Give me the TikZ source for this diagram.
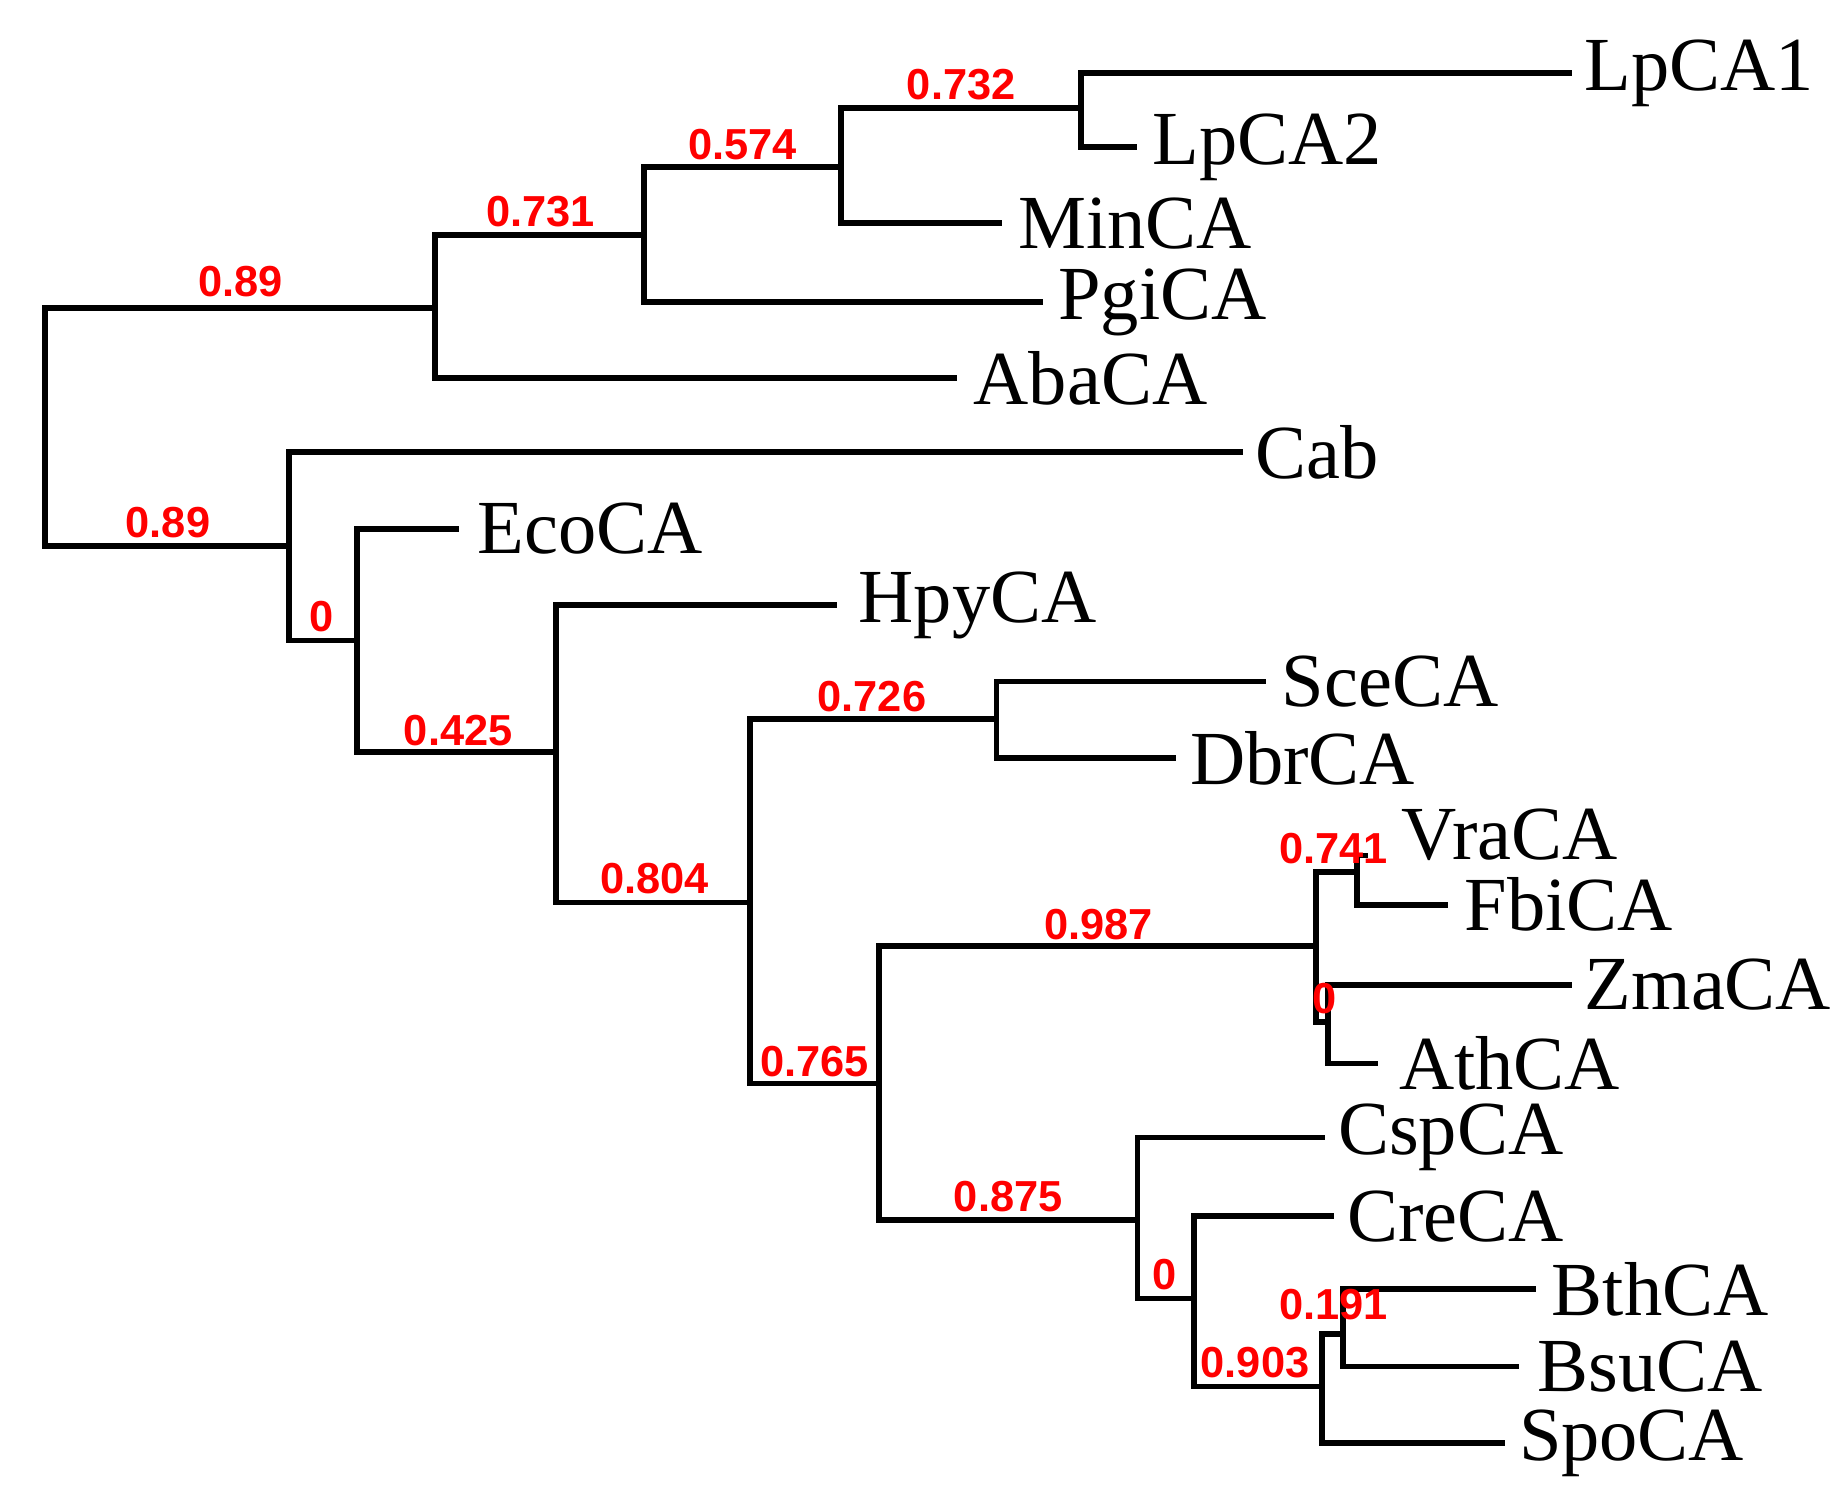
\documentclass[tikz,border=0pt]{standalone}
\usepackage{fontspec}
\setmainfont{Liberation Serif}
\newfontfamily\lsans{Liberation Sans}
\begin{document}
\begin{tikzpicture}[x=0.01cm,y=-0.01cm,
  br/.style={line width=1.4pt,line cap=rect},
  leaf/.style={anchor=west,inner sep=0pt,font=\fontsize{18.5}{18.5}\selectfont},
  sup/.style={text=red,inner sep=0pt,font=\lsans\bfseries\fontsize{10.5}{10.5}\selectfont}]
\useasboundingbox (0,0) rectangle (1565,1277);
% line ends of leaves
\coordinate (eLpCA1) at (1335,62);
\coordinate (eLpCA2) at (965,125);
\coordinate (eMinCA) at (850,190);
\coordinate (ePgiCA) at (885,257);
\coordinate (eAbaCA) at (812,322);
\coordinate (eCab) at (1055,385);
\coordinate (eEcoCA) at (388,450);
\coordinate (eHpyCA) at (710,515);
\coordinate (eSceCA) at (1075,580);
\coordinate (eDbrCA) at (998,645);
\coordinate (eVraCA) at (1162,728);
\coordinate (eFbiCA) at (1230,770);
\coordinate (eZmaCA) at (1335,838);
\coordinate (eAthCA) at (1170,905);
\coordinate (eCspCA) at (1125,968);
\coordinate (eCreCA) at (1133,1035);
\coordinate (eBthCA) at (1305,1097);
\coordinate (eBsuCA) at (1290,1163);
\coordinate (eSpoCA) at (1278,1228);
% leaves
\node[leaf] (LpCA1) at (1348,62) {LpCA1};
\node[leaf] (LpCA2) at (980,125) {LpCA2};
\node[leaf] (MinCA) at (866,190) {MinCA};
\node[leaf] (PgiCA) at (900,257) {PgiCA};
\node[leaf] (AbaCA) at (828,322) {AbaCA};
\node[leaf] (Cab) at (1068,385) {Cab};
\node[leaf] (EcoCA) at (406,450) {EcoCA};
\node[leaf] (HpyCA) at (730,515) {HpyCA};
\node[leaf] (SceCA) at (1090,580) {SceCA};
\node[leaf] (DbrCA) at (1012,645) {DbrCA};
\node[leaf] (VraCA) at (1192,710) {VraCA};
\node[leaf] (FbiCA) at (1246,770) {FbiCA};
\node[leaf] (ZmaCA) at (1348,838) {ZmaCA};
\node[leaf] (AthCA) at (1190,905) {AthCA};
\node[leaf] (CspCA) at (1138,968) {CspCA};
\node[leaf] (CreCA) at (1146,1035) {CreCA};
\node[leaf] (BthCA) at (1320,1097) {BthCA};
\node[leaf] (BsuCA) at (1308,1163) {BsuCA};
\node[leaf] (SpoCA) at (1292,1228) {SpoCA};
% internal nodes
\coordinate (r) at (38,262);
\coordinate (rb) at (38,465);
\coordinate (n1) at (370,262);
\coordinate (n2) at (548,200);
\coordinate (n3) at (716,142);
\coordinate (n4) at (920,92);
\coordinate (m1) at (246,465);
\coordinate (m2) at (304,545);
\coordinate (m3) at (473,640);
\coordinate (m4) at (638,768);
\coordinate (m5) at (848,612);
\coordinate (m6) at (748,922);
\coordinate (m7) at (1120,805);
\coordinate (m8) at (1155,742);
\coordinate (m9) at (1130,870);
\coordinate (m10) at (968,1038);
\coordinate (m11) at (1016,1105);
\coordinate (m12) at (1125,1180);
\coordinate (m13) at (1143,1135);
% branches
\draw[br] (rb) -- (r) -- (n1);
\draw[br] (rb) -- (m1);
\draw[br] (eAbaCA) -| (n1) |- (n2);
\draw[br] (ePgiCA) -| (n2) |- (n3);
\draw[br] (eMinCA) -| (n3) |- (n4);
\draw[br] (eLpCA1) -| (n4) |- (eLpCA2);
\draw[br] (eCab) -| (m1) |- (m2);
\draw[br] (eEcoCA) -| (m2) |- (m3);
\draw[br] (eHpyCA) -| (m3) |- (m4);
\draw[br] (m4) |- (m5);
\draw[br] (m4) |- (m6);
\draw[br] (eSceCA) -| (m5) |- (eDbrCA);
\draw[br] (m6) |- (m7);
\draw[br] (m6) |- (m10);
\draw[br] (m7) |- (m8);
\draw[br] (m7) |- (m9);
\draw[br] (eVraCA) -| (m8) |- (eFbiCA);
\draw[br] (eZmaCA) -| (m9) |- (eAthCA);
\draw[br] (eCspCA) -| (m10) |- (m11);
\draw[br] (eCreCA) -| (m11) |- (m12);
\draw[br] (m12) |- (m13);
\draw[br] (m12) |- (eSpoCA);
\draw[br] (eBthCA) -| (m13) |- (eBsuCA);
% support values
\node[sup] (s1) at (205,240) {0.89};
\node[sup] (s2) at (143,445) {0.89};
\node[sup] (s3) at (460,180) {0.731};
\node[sup] (s4) at (632,123) {0.574};
\node[sup] (s5) at (818,72) {0.732};
\node[sup] (s6) at (274,525) {0};
\node[sup] (s7) at (390,622) {0.425};
\node[sup] (s8) at (557,748) {0.804};
\node[sup] (s9) at (742,593) {0.726};
\node[sup] (s10) at (693,903) {0.765};
\node[sup] (s11) at (935,787) {0.987};
\node[sup] (s12) at (858,1018) {0.875};
\node[sup] (s13) at (1135,722) {0.741};
\node[sup] (s14) at (1127,850) {0};
\node[sup] (s15) at (991,1085) {0};
\node[sup] (s16) at (1068,1160) {0.903};
\node[sup] (s17) at (1135,1110) {0.191};
\end{tikzpicture}
\end{document}
